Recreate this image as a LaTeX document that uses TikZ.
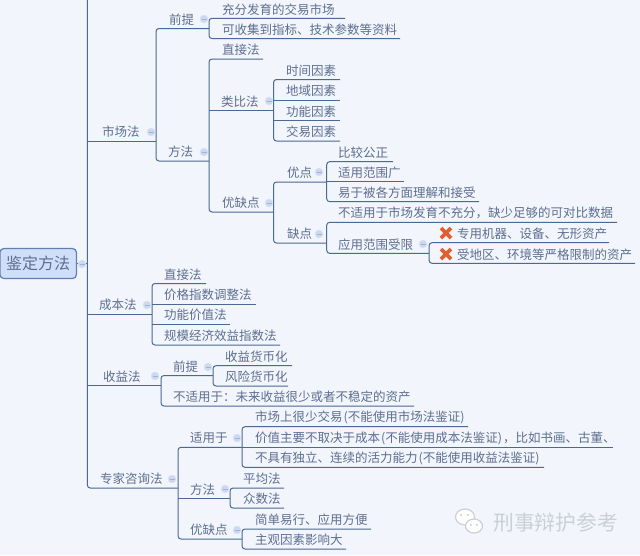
\documentclass[tikz,border=0pt]{standalone}
\usepackage{fontspec}
\setmainfont{Noto Sans CJK SC}
\definecolor{bgc}{HTML}{F2F5FB}
\definecolor{linec}{HTML}{4A6993}
\definecolor{textc}{HTML}{5D6F90}
\definecolor{rootf}{HTML}{CFDFFA}
\definecolor{rootd}{HTML}{6180AE}
\definecolor{iconf}{HTML}{CCD9F0}
\definecolor{iconl}{HTML}{9FB3D6}
\definecolor{wm}{HTML}{CBCFD6}
\definecolor{crossc}{HTML}{E2602F}
\tikzset{
 conn/.style={draw=linec,line width=1pt,rounded corners=3pt},
 lbl/.style={text=textc,inner sep=0pt,anchor=west,font=\fontsize{12.5pt}{14pt}\selectfont},
 rootbox/.style={draw=rootd,fill=rootf,line width=1.2pt,rounded corners=4pt,text=textc,inner sep=0pt,font=\fontsize{16pt}{18pt}\selectfont},
 fold/.style={circle,fill=iconf,draw=iconf!70!white,line width=.4pt,minimum size=8pt,inner sep=0pt,
   path picture={\draw[iconl,line width=.9pt] ([xshift=-2.5pt]path picture bounding box.center)--([xshift=2.5pt]path picture bounding box.center);}},
 wmk/.style={text=wm,inner sep=0pt,font=\fontsize{20.8pt}{22pt}\selectfont},
}
\newcommand{\lpar}{\kern1pt(}
\newcommand{\rpar}{)\kern1pt}
% name, spine x, underline y, end x, text x, text
\newcommand{\tb}[6]{%
 \coordinate (#1-l) at (#2,#3);
 \coordinate (#1-r) at (#4,#3);
 \node[lbl] (#1) at (#5,#3-9) {#6};}
\newcommand{\fd}[3]{\node[fold] (#1) at (#2,#3) {};}
\newcommand{\cross}[3]{%
 \node[inner sep=0pt,minimum size=12pt] (#1) at (#2,#3) {};
 \draw[draw=crossc,line width=3.6pt] (#1.center)++(-5,-5)--++(10,10) (#1.center)++(-5,5)--++(10,-10);}
\begin{document}
\begin{tikzpicture}[x=1pt,y=-1pt]
\useasboundingbox (0,0) rectangle (640,555);
\fill[bgc] (0,0) rectangle (640,555);
\node[rootbox,minimum width=76.5pt,minimum height=30pt] (root) at (38.2,263.5) {鉴定方法};
\coordinate (maintop) at (87.3,-5);
\coordinate (rootj) at (87.3,263.5);
\tb{sc}{87.3}{141}{156}{102}{市场法}
\tb{cb}{87.3}{314}{152}{99}{成本法}
\tb{sy}{87.3}{385.7}{161}{103}{收益法}
\tb{zj}{87.3}{488}{178}{100}{专家咨询法}
\tb{sc1}{156}{28.5}{209}{169}{前提}
\tb{sc2}{156}{161}{209}{168}{方法}
\tb{qt1}{209}{18.3}{345}{222}{充分发育的交易市场}
\tb{qt2}{209}{38.5}{400}{222}{可收集到指标、技术参数等资料}
\tb{ff1}{209}{59}{263}{222}{直接法}
\tb{ff2}{209}{110.5}{273.5}{221}{类比法}
\tb{ff3}{209}{212}{273.5}{222}{优缺点}
\tb{lb1}{273.5}{79.5}{340}{286}{时间因素}
\tb{lb2}{273.5}{100}{340}{286}{地域因素}
\tb{lb3}{273.5}{120.5}{340}{286}{功能因素}
\tb{lb4}{273.5}{141}{340}{286}{交易因素}
\tb{yq1}{273.5}{182}{326.7}{287}{优点}
\tb{yq2}{273.5}{243}{326.7}{287}{缺点}
\tb{yd1}{326.7}{161.7}{393}{338}{比较公正}
\tb{yd2}{326.7}{181.7}{404}{338}{适用范围广}
\tb{yd3}{326.7}{201.7}{479}{338}{易于被各方面理解和接受}
\tb{qd1}{326.7}{222.3}{617}{338}{不适用于市场发育不充分，缺少足够的可对比数据}
\tb{qd2}{326.7}{253.3}{429}{338}{应用范围受限}
\tb{xz1}{429}{242.7}{609}{457}{专用机器、设备、无形资产}
\tb{xz2}{429}{263.3}{635}{457}{受地区、环境等严格限制的资产}
\tb{cb1}{152}{283.5}{206}{164}{直接法}
\tb{cb2}{152}{304}{256}{164}{价格指数调整法}
\tb{cb3}{152}{324}{230}{164}{功能价值法}
\tb{cb4}{152}{345}{280}{164}{规模经济效益指数法}
\tb{sy1}{161}{375.5}{213}{173}{前提}
\tb{sy2}{161}{406}{414}{173}{不适用于：未来收益很少或者不稳定的资产}
\tb{hb1}{213}{365.7}{292}{225}{收益货币化}
\tb{hb2}{213}{386}{288}{225}{风险货币化}
\tb{zj1}{178}{447.3}{242}{190}{适用于}
\tb{zj2}{178}{498.3}{230}{190}{方法}
\tb{zj3}{178}{539}{242}{190}{优缺点}
\tb{sh1}{242}{426.7}{468}{255}{市场上很少交易\lpar 不能使用市场法鉴证\rpar}
\tb{sh2}{242}{447}{613}{255}{价值主要不取决于成本\lpar 不能使用成本法鉴证\rpar ，比如书画、古董、}
\tb{sh3}{242}{467.3}{544}{255}{不具有独立、连续的活力能力\lpar 不能使用收益法鉴证\rpar}
\tb{pj1}{230}{488}{284}{243}{平均法}
\tb{pj2}{230}{508}{284}{243}{众数法}
\tb{jd1}{242}{529}{371}{255}{简单易行、应用方便}
\tb{jd2}{242}{549}{346}{255}{主观因素影响大}
\draw[conn] (maintop) -- (zj-l) -- (zj-r);
\draw[conn] (root.east) -- (rootj);
\foreach \a in {sc,cb,sy}{\draw[conn] (\a-l) -- (\a-r);}
\foreach \t/\b in {sc1/sc2,qt1/qt2,ff1/ff3,lb1/lb4,yq1/yq2,yd1/yd3,qd1/qd2,xz1/xz2,cb1/cb4,sy1/sy2,hb1/hb2,zj1/zj3,sh1/sh3,pj1/pj2,jd1/jd2}{
  \draw[conn] (\t-r) -- (\t-l) -- (\b-l) -- (\b-r);}
\foreach \a in {ff2,lb2,lb3,yd2,cb2,cb3,zj2,sh2}{\draw[conn] (\a-l) -- (\a-r);}
\fd{f0}{82}{264}\fd{f1}{151}{132}\fd{f2}{204}{19}\fd{f3}{204}{152}
\fd{f4}{269}{101}\fd{f5}{269}{203}\fd{f6}{319}{172}\fd{f7}{319}{234}
\fd{f8}{423}{244}\fd{f9}{147}{305}\fd{f10}{155}{376}\fd{f11}{208}{367}
\fd{f12}{172}{479}\fd{f13}{237}{438}\fd{f14}{225}{489}\fd{f15}{237}{530}
\cross{x1}{446}{233}
\cross{x2}{446}{254}
\node[wmk,anchor=west] (wmtext) at (493,523) {刑事辩护参考};
\draw[wm,fill=white,line width=1.2pt] (465,517) ellipse (9.5pt and 8pt);
\draw[wm,fill=white,line width=1.2pt] (474,526) ellipse (8.5pt and 7pt);
\fill[wm] (461,515) circle (1.2pt) (468,515) circle (1.2pt) (471,525) circle (1.1pt) (477,525) circle (1.1pt);
\end{tikzpicture}
\end{document}
